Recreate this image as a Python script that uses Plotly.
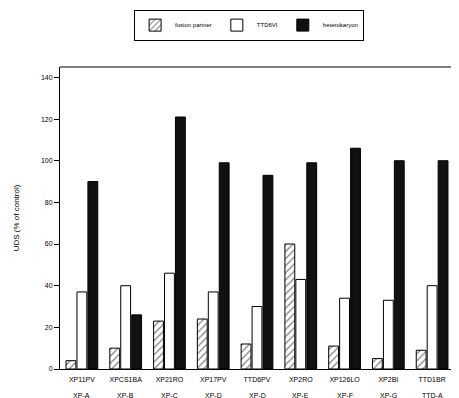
import plotly.graph_objects as go

cell_lines = ["XP11PV", "XPCS1BA", "XP21RO", "XP17PV", "TTD6PV", "XP2RO", "XP126LO", "XP2BI", "TTD1BR"]
groups = ["XP-A", "XP-B", "XP-C", "XP-D", "XP-D", "XP-E", "XP-F", "XP-G", "TTD-A"]
fusion_partner = [4, 10, 23, 24, 12, 60, 11, 5, 9]
ttd_partner = [37, 40, 46, 37, 30, 43, 34, 33, 40]
heterokaryon = [90, 26, 121, 99, 93, 99, 106, 100, 100]
y_ticks = [0, 20, 40, 60, 80, 100, 120, 140]

fig = go.Figure()
fig.add_trace(go.Bar(
    x=cell_lines, y=fusion_partner, name="fusion partner",
    marker=dict(color="white", line=dict(color="black", width=1),
                pattern=dict(shape="/", fgcolor="black", bgcolor="white", size=5, solidity=0.25)),
))
fig.add_trace(go.Bar(
    x=cell_lines, y=ttd_partner, name="TTD6VI",
    marker=dict(color="white", line=dict(color="black", width=1)),
))
fig.add_trace(go.Bar(
    x=cell_lines, y=heterokaryon, name="heterokaryon",
    marker=dict(color="#111111", line=dict(color="black", width=1)),
))

fig.update_layout(
    width=451, height=390,
    margin=dict(l=52, r=5, t=59, b=29, autoexpand=False),
    paper_bgcolor="white", plot_bgcolor="white",
    barmode="group", bargap=0.25, bargroupgap=0.1,
    font=dict(family="Liberation Sans, Arial, sans-serif", size=8, color="black"),
    showlegend=True,
    legend=dict(orientation="h", x=0.48, xanchor="center", y=1.19, yanchor="top",
                bordercolor="black", borderwidth=1, font=dict(size=6, color="black"),
                itemwidth=30, tracegroupgap=0),
)
for c, g in zip(cell_lines, groups):
    fig.add_annotation(x=c, xref="x", y=0, yref="paper", yshift=-26, text=g,
                       showarrow=False, font=dict(size=7), yanchor="middle")
fig.update_xaxes(
    tickmode="array", tickvals=cell_lines, ticktext=cell_lines,
    showline=True, linecolor="black", linewidth=1, ticks="", tickfont=dict(size=7),
    ticklabelstandoff=4, showgrid=False, automargin=False,
)
fig.update_yaxes(
    range=[0, 145], tickvals=y_ticks, showline=True, linecolor="black", linewidth=1,
    ticks="outside", ticklen=5, tickcolor="black", showgrid=False, zeroline=False,
    tickfont=dict(size=7), automargin=False,
    title=dict(text="UDS (% of control)", font=dict(size=8), standoff=20),
)
fig.add_shape(type="line", xref="paper", yref="paper", x0=0, x1=1, y0=1, y1=1,
              line=dict(color="black", width=1))
fig.write_html("out.html")
